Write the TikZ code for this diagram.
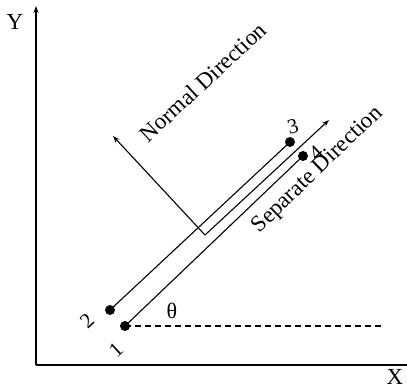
\documentclass[tikz,border=0pt]{standalone}
\usepackage{fontspec}
\setmainfont{Liberation Serif}
\usetikzlibrary{arrows.meta}
\begin{document}
\begin{tikzpicture}[x=1pt,y=-1pt,
  dot/.style={circle,fill=black,inner sep=0pt,minimum size=10pt},
  axis/.style={line width=1.2pt},
  conn/.style={line width=1.1pt},
  arr/.style={line width=1.1pt,-{Stealth[length=7pt,width=5pt]}},
  lbl/.style={font=\fontsize{23}{25}\selectfont,inner sep=0pt},
  num/.style={font=\fontsize{21}{23}\selectfont,inner sep=0pt}]
\useasboundingbox (0,0) rectangle (407,386);
% axes
\coordinate (orig) at (36,365);
\coordinate (ytip) at (36,6);
\coordinate (xend) at (407,365);
\draw[axis,-{Stealth[length=7pt,width=5pt]}] (orig) -- (ytip);
\draw[axis] (orig) -- (xend);
\node[lbl] (ylab) at (15,22) {Y};
\node[lbl,anchor=south] (xlab) at (395,385) {X};
% points
\node[dot] (p1) at (125,326) {};
\node[dot] (p2) at (110,310) {};
\node[dot] (p3) at (290,142) {};
\node[dot] (p4) at (303,156) {};
\draw[conn] (p2.center) -- (p3.center);
\draw[conn] (p1.center) -- (p4.center);
\coordinate (dend) at (382,326);
\draw[conn,dashed,dash pattern=on 6pt off 4pt] (p1.center) -- (dend);
% direction arrows
\coordinate (O) at (205,235);
\coordinate (stip) at (329,120);
\coordinate (ntip) at (113,136);
\draw[arr] (O) -- (stip);
\draw[arr] (O) -- (ntip);
% labels
\node[num,rotate=43] (l1) at (116,350) {1};
\node[num,rotate=43] (l2) at (87,321) {2};
\node[num,rotate=15] (l3) at (293,127) {3};
\node[num,rotate=43] (l4) at (316,153) {4};
\node[lbl,font=\fontsize{22}{24}\selectfont] (th) at (172,311) {θ};
\node[lbl,rotate=43] (nd) at (203,82) {Normal Direction};
\node[lbl,rotate=44] (sd) at (318,170) {Separate Direction};
\end{tikzpicture}
\end{document}
